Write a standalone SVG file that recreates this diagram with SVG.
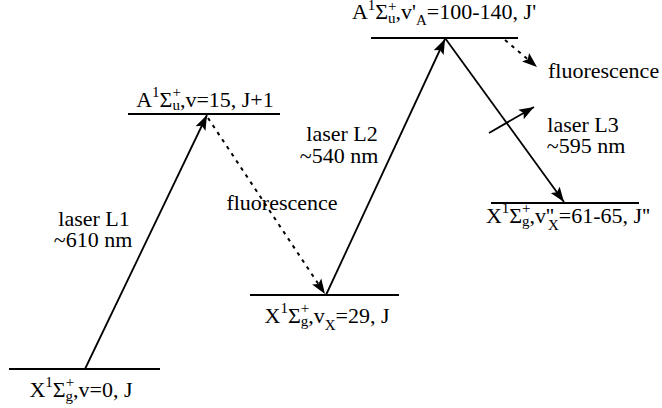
<svg xmlns="http://www.w3.org/2000/svg" width="662" height="408" viewBox="0 0 662 408">
<defs>
<marker id="ah" markerUnits="userSpaceOnUse" markerWidth="16" markerHeight="12" refX="15" refY="6" orient="auto">
<path d="M0,0.5 L15,6 L0,11.5 L3,6 z" fill="#000"/>
</marker>
</defs>
<rect width="662" height="408" fill="#fff"/>
<g font-family="Liberation Serif, Tinos, Times New Roman, serif" font-size="22" fill="#000">
<g id="X_v0">
<line x1="9" y1="369" x2="160" y2="369" stroke="#000" stroke-width="2"/>
<text x="81" y="397" text-anchor="middle">X<tspan font-size="15" dy="-10">1</tspan><tspan dy="10">Σ</tspan><tspan font-size="15" dy="-10">+</tspan><tspan font-size="15" dx="-8.5" dy="14">g</tspan><tspan dy="-4">,v=0, J</tspan></text>
</g>
<g id="A_v15">
<line x1="128" y1="114" x2="280" y2="114" stroke="#000" stroke-width="2"/>
<text x="205" y="107" text-anchor="middle">A<tspan font-size="15" dy="-10">1</tspan><tspan dy="10">Σ</tspan><tspan font-size="15" dy="-10">+</tspan><tspan font-size="15" dx="-8.5" dy="13">u</tspan><tspan dy="-3">,v=15, J+1</tspan></text>
</g>
<g id="X_v29">
<line x1="250" y1="295" x2="399" y2="295" stroke="#000" stroke-width="2"/>
<text x="327" y="323" text-anchor="middle">X<tspan font-size="15" dy="-10">1</tspan><tspan dy="10">Σ</tspan><tspan font-size="15" dy="-10">+</tspan><tspan font-size="15" dx="-8.5" dy="13">g</tspan><tspan dy="-3">,v</tspan><tspan font-size="15" dy="7">X</tspan><tspan dy="-7">=29, J</tspan></text>
</g>
<g id="A_vA">
<line x1="371" y1="38" x2="518" y2="38" stroke="#000" stroke-width="2"/>
<text x="444" y="19" text-anchor="middle">A<tspan font-size="15" dy="-9">1</tspan><tspan dy="9">Σ</tspan><tspan font-size="15" dy="-8">+</tspan><tspan font-size="15" dx="-8.5" dy="12">u</tspan><tspan dy="-4">,v'</tspan><tspan font-size="15" dy="6">A</tspan><tspan dy="-6">=100-140, J'</tspan></text>
</g>
<g id="X_vX">
<line x1="491" y1="203" x2="639" y2="203" stroke="#000" stroke-width="2"/>
<text x="568" y="223" text-anchor="middle">X<tspan font-size="15" dy="-10">1</tspan><tspan dy="10">Σ</tspan><tspan font-size="15" dy="-10">+</tspan><tspan font-size="15" dx="-8.5" dy="13">g</tspan><tspan dy="-3">,v''</tspan><tspan font-size="15" dx="-6" dy="7">X</tspan><tspan dy="-7">=61-65, J''</tspan></text>
</g>
<g id="connectors" stroke="#000" stroke-width="1.8" fill="none" marker-end="url(#ah)">
<line x1="85" y1="369" x2="207" y2="115"/>
<line x1="208" y1="118" x2="325" y2="294" stroke-width="2" stroke-dasharray="3.5 5"/>
<line x1="326" y1="295" x2="445" y2="39"/>
<line x1="445" y1="38" x2="564" y2="202"/>
<line x1="489" y1="133" x2="534" y2="107"/>
<line x1="505" y1="40" x2="537" y2="67" stroke-width="2" stroke-dasharray="3.5 5"/>
</g>
<g id="labels" text-anchor="middle">
<text><tspan x="94" y="226">laser L1</tspan><tspan x="93" y="247">~610 nm</tspan></text>
<text x="282" y="210">fluorescence</text>
<text><tspan x="342" y="141">laser L2</tspan><tspan x="339" y="163">~540 nm</tspan></text>
<text><tspan x="583" y="132">laser L3</tspan><tspan x="586" y="153">~595 nm</tspan></text>
<text x="548" y="78" text-anchor="start">fluorescence</text>
</g>
</g>
</svg>
